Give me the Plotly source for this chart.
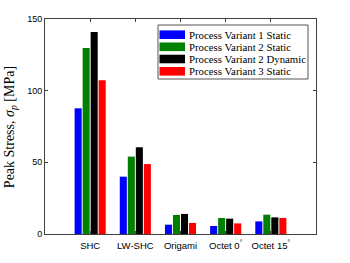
import plotly.graph_objects as go

categories = ["SHC", "LW-SHC", "Origami", "Octet 0<sup>°</sup>", "Octet 15<sup>°</sup>"]
positions = [1, 2, 3, 4, 5]
series_names = [
    "Process Variant 1 Static",
    "Process Variant 2 Static",
    "Process Variant 2 Dynamic",
    "Process Variant 3 Static",
]
pv1_static = [87.7, 40.0, 6.5, 5.6, 8.8]
pv2_static = [129.8, 54.0, 13.3, 11.2, 13.5]
pv2_dynamic = [140.9, 60.5, 14.0, 10.7, 11.6]
pv3_static = [107.2, 48.8, 7.7, 7.4, 11.2]
colors = ["#0000ff", "#008000", "#000000", "#ff0000"]
y_ticks = [0, 50, 100, 150]

W, H = 350, 263
ML, MR, MT, MB = 45, 34, 19, 29
PW, PH = W - ML - MR, H - MT - MB


def px_x(px):
    return (px - ML) / PW


def px_y(py):
    return (H - MB - py) / PH


fig = go.Figure()
for name, vals, c in zip(series_names, [pv1_static, pv2_static, pv2_dynamic, pv3_static], colors):
    fig.add_trace(go.Bar(x=positions, y=vals, name=name, marker=dict(color=c, line=dict(width=0))))

axis_color = "#404040"

# custom legend (MATLAB style: wide swatches, compact rows)
shapes = [dict(type="rect", xref="paper", yref="paper",
               x0=px_x(158), x1=px_x(308), y0=px_y(79), y1=px_y(25),
               line=dict(color="#555555", width=1), fillcolor="white", layer="above")]
annotations = []
row_centers = [34.7, 46.8, 59.0, 71.3]
for name, c, yc in zip(series_names, colors, row_centers):
    shapes.append(dict(type="rect", xref="paper", yref="paper",
                       x0=px_x(159.5), x1=px_x(185), y0=px_y(yc + 4.3), y1=px_y(yc - 4.3),
                       line=dict(width=0), fillcolor=c, layer="above"))
    annotations.append(dict(text=name, xref="paper", yref="paper",
                            x=px_x(186.5), y=px_y(yc), xanchor="left", yanchor="middle",
                            showarrow=False,
                            font=dict(family="Liberation Serif", size=10.8, color="black")))

annotations.append(dict(
    text="Peak Stress, <i>σ</i><sub><i>p</i></sub> [MPa]",
    xref="paper", yref="paper", x=px_x(10), y=0.497,
    xanchor="center", yanchor="middle", textangle=-90, showarrow=False,
    font=dict(family="Liberation Serif", size=14, color="black"),
))

fig.update_layout(
    width=W, height=H,
    margin=dict(l=ML, r=MR, t=MT, b=MB, autoexpand=False),
    paper_bgcolor="white", plot_bgcolor="white",
    barmode="group", bargap=0.29, bargroupgap=0.12,
    showlegend=False,
    xaxis=dict(
        range=[0, 6], tickvals=positions, ticktext=categories,
        showline=True, linecolor=axis_color, linewidth=1, mirror="ticks",
        ticks="inside", ticklen=3, tickcolor=axis_color,
        showgrid=False, zeroline=False, automargin=False, ticklabelstandoff=3,
        tickfont=dict(family="Liberation Sans", size=9.5, color="black"),
    ),
    yaxis=dict(
        range=[0, 150], tickvals=y_ticks,
        showline=True, linecolor=axis_color, linewidth=1, mirror="ticks",
        ticks="inside", ticklen=3, tickcolor=axis_color,
        showgrid=False, zeroline=False, automargin=False,
        tickfont=dict(family="Liberation Sans", size=9, color="black"),
    ),
    shapes=shapes,
    annotations=annotations,
)

fig.write_html("out.html", config={"displayModeBar": False},
               post_script="document.body.style.margin='0px';")
